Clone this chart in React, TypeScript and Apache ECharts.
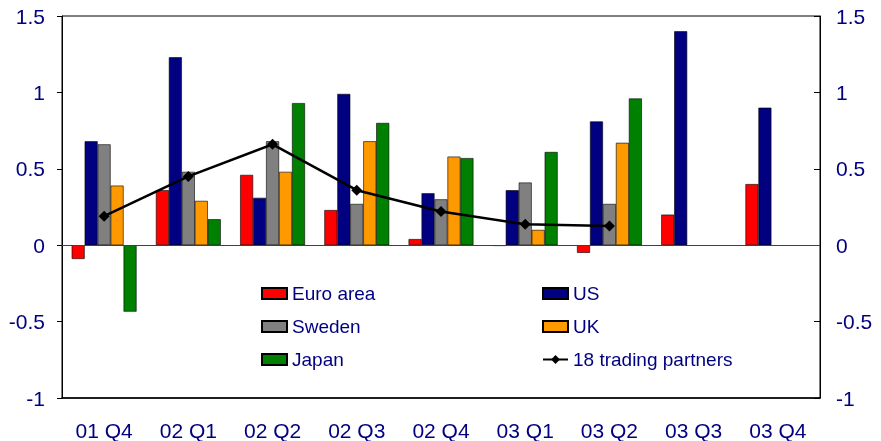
import React, { useEffect, useRef } from "react";
import * as echarts from "echarts";

const categories = ["01 Q4", "02 Q1", "02 Q2", "02 Q3", "02 Q4", "03 Q1", "03 Q2", "03 Q3", "03 Q4"];
const euroArea = [-0.09, 0.36, 0.46, 0.23, 0.04, -0.005, -0.05, 0.2, 0.4];
const us = [0.68, 1.23, 0.31, 0.99, 0.34, 0.36, 0.81, 1.4, 0.9];
const sweden = [0.66, 0.48, 0.68, 0.27, 0.3, 0.41, 0.27, null, null];
const uk = [0.39, 0.29, 0.48, 0.68, 0.58, 0.1, 0.67, null, null];
const japan = [-0.435, 0.17, 0.93, 0.8, 0.57, 0.61, 0.96, null, null];
const partners18 = [0.19, 0.45, 0.66, 0.36, 0.22, 0.137, 0.126, null, null];
const yTicks = { min: -1, max: 1.5, interval: 0.5 };

const FONT = "'Liberation Sans', Arial, sans-serif";
const TXT = "#000080";

export default function App() {
  const ref = useRef<HTMLDivElement>(null);
  useEffect(() => {
    if (!ref.current) return;
    const chart = echarts.init(ref.current, null, { renderer: "svg" });
    const bar = (name: string, data: (number | null)[], color: string, extra: any = {}) => ({
      name,
      type: "bar",
      data,
      barGap: "0%",
      barCategoryGap: "23%",
      itemStyle: { color, borderColor: "#000", borderWidth: 0.6 },
      ...extra,
    });
    const legendCommon = {
      orient: "vertical",
      padding: 0,
      itemWidth: 25,
      itemHeight: 11,
      itemGap: 14,
      textStyle: { color: TXT, fontSize: 19, fontFamily: FONT },
    };
    const rectItem = (name: string) => ({ name, icon: "rect" });
    chart.setOption({
      animation: false,
      textStyle: { fontFamily: FONT },
      grid: { left: 62, right: 61, top: 16, bottom: 43, show: true, borderColor: "#000", borderWidth: 1, backgroundColor: "transparent" },
      legend: [
        { ...legendCommon, left: 261, top: 284, data: [rectItem("Euro area"), rectItem("Sweden"), rectItem("Japan")] },
        { ...legendCommon, left: 542, top: 284, data: [rectItem("US"), rectItem("UK"), { name: "18 trading partners" }] },
      ],
      xAxis: {
        type: "category",
        data: categories,
        boundaryGap: true,
        axisLine: { onZero: false, lineStyle: { color: "#000", width: 1.5 } },
        axisTick: { inside: true, length: 9, lineStyle: { color: "#000" } },
        axisLabel: { color: TXT, fontSize: 21, fontFamily: FONT, margin: 22 },
      },
      yAxis: [
        {
          type: "value",
          position: "left",
          ...yTicks,
          axisLine: { show: true, lineStyle: { color: "#000" } },
          axisTick: { show: true, length: 5, lineStyle: { color: "#000" } },
          axisLabel: { color: TXT, fontSize: 21, fontFamily: FONT, margin: 17 },
          splitLine: { show: false },
        },
        {
          type: "value",
          position: "right",
          ...yTicks,
          axisLine: { show: true, lineStyle: { color: "#000" } },
          axisTick: { show: true, inside: true, length: 6, lineStyle: { color: "#000" } },
          axisLabel: { color: TXT, fontSize: 21, fontFamily: FONT, margin: 16 },
          splitLine: { show: false },
        },
      ],
      series: [
        bar("Euro area", euroArea, "#FF0000", {
          markLine: {
            silent: true,
            symbol: "none",
            label: { show: false },
            lineStyle: { color: "#404040", width: 1, type: "solid" },
            data: [{ yAxis: 0 }],
          },
        }),
        bar("US", us, "#000080"),
        bar("Sweden", sweden, "#808080"),
        bar("UK", uk, "#FF9900"),
        bar("Japan", japan, "#008000"),
        {
          name: "18 trading partners",
          type: "line",
          data: partners18,
          symbol: "diamond",
          symbolSize: 11,
          itemStyle: { color: "#000" },
          lineStyle: { color: "#000", width: 2.5 },
          z: 5,
        },
      ],
    });
    return () => chart.dispose();
  }, []);
  return <div ref={ref} style={{ position: "fixed", left: 0, top: 0, width: 881, height: 441 }} />;
}
